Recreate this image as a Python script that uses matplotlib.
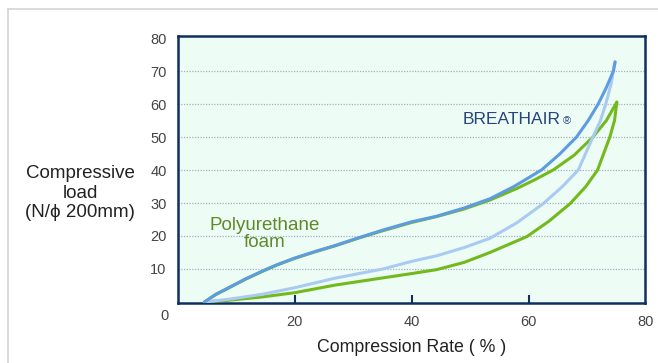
import matplotlib
matplotlib.use('Agg')
import matplotlib.pyplot as plt
from matplotlib.lines import Line2D

plt.rcParams['font.family'] = ['Liberation Sans', 'DejaVu Sans']

# Compression rate (%) vs load (N) — loading and unloading branches
ba_load_x = [4.6, 6.5, 8.7, 11.5, 14.4, 17.0, 20.0, 23.5, 26.9, 31.0, 35.1, 40.0, 44.3, 49.0,
             53.4, 57.5, 62.2, 65.3, 68.2, 70.2, 71.9, 73.3, 74.5, 74.8]
ba_load_y = [0.0, 2.3, 4.3, 6.9, 9.3, 11.3, 13.3, 15.3, 17.1, 19.5, 21.8, 24.3, 26.0, 28.5,
             31.3, 35.0, 40.0, 44.8, 50.0, 55.0, 60.0, 65.0, 70.0, 72.8]

ba_unload_x = [4.6, 8.7, 14.4, 20.0, 26.9, 35.1, 40.0, 44.3, 49.0, 53.4, 58.0, 62.5,
               65.8, 68.5, 71.0, 72.3, 73.2, 74.1, 74.8]
ba_unload_y = [0.0, 0.8, 2.3, 4.3, 7.2, 10.0, 12.3, 14.0, 16.5, 19.3, 24.0, 29.8,
               35.0, 40.0, 50.0, 55.0, 60.0, 66.0, 72.8]

pu_load_x = [4.6, 6.5, 8.7, 11.5, 14.4, 17.0, 20.0, 23.5, 26.9, 31.0, 35.1, 40.0, 44.3, 49.0,
             53.4, 58.0, 61.0, 64.2, 67.8, 71.0, 73.3, 75.1]
pu_load_y = [0.0, 2.2, 4.2, 6.8, 9.2, 11.2, 13.2, 15.2, 17.0, 19.4, 21.6, 24.1, 25.9, 28.2,
             30.9, 34.4, 37.0, 40.0, 44.5, 50.0, 55.0, 60.6]

pu_unload_x = [4.6, 8.7, 14.4, 20.0, 26.9, 35.1, 40.0, 44.3, 49.0, 53.4, 59.7, 63.5,
               67.1, 69.8, 71.8, 73.9, 74.7, 75.1]
pu_unload_y = [0.0, 0.5, 1.5, 2.8, 5.1, 7.3, 8.6, 9.8, 12.0, 15.0, 19.8, 24.5,
               29.8, 35.0, 40.0, 50.0, 55.0, 60.6]

x_ticks = [20, 40, 60, 80]
y_ticks = [10, 20, 30, 40, 50, 60, 70, 80]

NAVY = '#0f2f5f'
BLUE = '#5d9ce0'
LIGHT_BLUE = '#a9cbf2'
GREEN = '#73b91e'

fig = plt.figure(figsize=(6.58, 3.63), dpi=100)
fig.patch.set_facecolor('white')

# light gray panel frame (open at right and bottom)
fig.add_artist(Line2D([8 / 658, 1.0], [1 - 9 / 363, 1 - 9 / 363],
                      transform=fig.transFigure, color='#d4d4d4', linewidth=1.2))
fig.add_artist(Line2D([8 / 658, 8 / 658], [0.0, 1 - 9 / 363],
                      transform=fig.transFigure, color='#d4d4d4', linewidth=1.2))

ax = fig.add_axes([0.270, 0.1664, 0.711, 0.7339])
ax.set_facecolor('#eefcf6')
ax.set_xlim(0, 80)
ax.set_ylim(-0.2, 80.6)

for v in y_ticks[:-1]:
    ax.axhline(v, color='#9fb4bd', linewidth=0.9, linestyle=(0, (1, 1.2)), zorder=1)

ax.plot(pu_unload_x, pu_unload_y, color=GREEN, linewidth=2.2, zorder=3,
        solid_capstyle='round', solid_joinstyle='round')
ax.plot(pu_load_x, pu_load_y, color=GREEN, linewidth=2.2, zorder=3,
        solid_capstyle='round', solid_joinstyle='round')
ax.plot(ba_unload_x, ba_unload_y, color=LIGHT_BLUE, linewidth=2.2, zorder=4,
        solid_capstyle='round', solid_joinstyle='round')
ax.plot(ba_load_x, ba_load_y, color=BLUE, linewidth=2.2, zorder=5,
        solid_capstyle='round', solid_joinstyle='round')

brand = ax.text(48.8, 55.4, 'BREATHAIR', color='#27457a', fontsize=12.5,
                va='center', ha='left')
ax.annotate('®', xy=(1, 0.5), xycoords=brand, xytext=(1, -1.5),
            textcoords='offset points', color='#27457a', fontsize=8,
            va='center', ha='left')
ax.text(14.8, 20.7, 'Polyurethane\nfoam', color='#5e8a2a', fontsize=13.5,
        ha='center', va='center', linespacing=1.0)

for spine in ax.spines.values():
    spine.set_color(NAVY)
    spine.set_linewidth(1.8)

ax.set_xticks(x_ticks)
ax.set_xticklabels([str(t) for t in x_ticks])
ax.set_yticks(y_ticks)
ax.set_yticklabels([str(t) for t in y_ticks])
ax.tick_params(axis='x', direction='in', length=6, width=1.5, color=NAVY,
               labelsize=10.5, labelcolor='#444444', pad=9)
ax.tick_params(axis='y', length=0, labelsize=10.5, labelcolor='#444444', pad=8)
# hide the inner tick at 80 (it sits on the right spine)
ax.xaxis.get_major_ticks()[-1].tick1line.set_visible(False)

ax.text(-2.2, -4.3, '0', color='#444444', fontsize=10.5, ha='center', va='center',
        clip_on=False)

ax.set_xlabel('Compression Rate ( % )', fontsize=12.8, color='#222222', labelpad=7)
fig.text(80 / 658, 1 - 193 / 363, 'Compressive\nload\n(N/ϕ 200mm)', fontsize=13.5,
         color='#222222', ha='center', va='center', linespacing=1.18)

fig.savefig('out.png', dpi=100, facecolor=fig.get_facecolor())
